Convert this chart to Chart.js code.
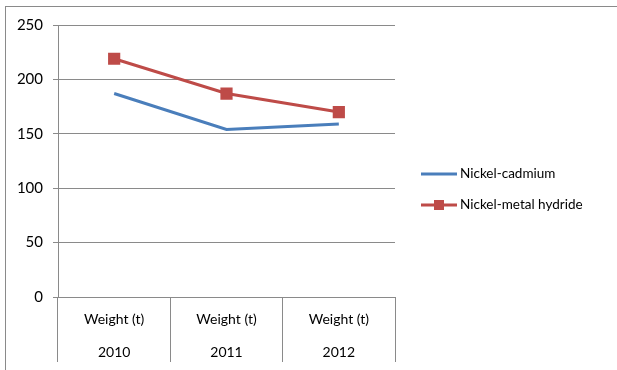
<!DOCTYPE html>
<html>
<head>
<meta charset="utf-8">
<script src="https://cdn.jsdelivr.net/npm/chart.js@4"></script>
<style>
  html, body { margin: 0; padding: 0; background: #fff; }
  #wrap { position: relative; width: 617px; height: 370px; overflow: hidden; }
  #frame { position: absolute; left: 5px; top: 6px; width: 700px; height: 500px;
           border-top: 1px solid #8a8a8a; border-left: 1px solid #8a8a8a; }
  canvas { position: absolute; left: 0; top: 0; }
</style>
</head>
<body>
<div id="wrap">
  <div id="frame"></div>
  <canvas id="chart" width="617" height="370"></canvas>
</div>
<script>
// battery weights per year
const years = ['2010', '2011', '2012'];
const measure = 'Weight (t)';
const nickelCadmium = [187, 154, 159];
const nickelMetalHydride = [219, 187, 170];
const yTicks = [0, 50, 100, 150, 200, 250];

const seriesNames = ['Nickel-cadmium', 'Nickel-metal hydride'];
const seriesColors = ['#4a7ebb', '#be4b48'];

const FONT = "Lato, 'Open Sans', sans-serif";

// legend on the right: line + marker sample, then the name
const sideLegend = {
  id: 'sideLegend',
  afterDraw(chart) {
    const ctx = chart.ctx;
    ctx.save();
    chart.data.datasets.forEach((ds, i) => {
      const y = 174 + i * 31;
      ctx.strokeStyle = ds.borderColor;
      ctx.lineWidth = 3;
      ctx.beginPath();
      ctx.moveTo(421, y);
      ctx.lineTo(457, y);
      ctx.stroke();
      if (ds.pointRadius > 0) {
        ctx.fillStyle = ds.pointBackgroundColor;
        ctx.fillRect(439 - 5, y - 5, 10, 10);
      }
      ctx.fillStyle = '#000';
      ctx.font = '13.5px ' + FONT;
      ctx.textBaseline = 'middle';
      ctx.textAlign = 'left';
      ctx.fillText(ds.label, 460, y);
    });
    ctx.restore();
  }
};

new Chart(document.getElementById('chart'), {
  type: 'line',
  data: {
    labels: years.map(y => [measure, y]),
    datasets: [
      {
        label: seriesNames[0],
        data: nickelCadmium,
        borderColor: seriesColors[0],
        backgroundColor: seriesColors[0],
        borderWidth: 3,
        pointRadius: 0,
        tension: 0
      },
      {
        label: seriesNames[1],
        data: nickelMetalHydride,
        borderColor: seriesColors[1],
        backgroundColor: seriesColors[1],
        pointBackgroundColor: seriesColors[1],
        pointBorderColor: seriesColors[1],
        borderWidth: 3,
        pointStyle: 'rect',
        pointRadius: 6.5,
        tension: 0
      }
    ]
  },
  options: {
    responsive: false,
    animation: false,
    layout: { padding: { top: 25, right: 222, bottom: 0, left: 0 } },
    plugins: {
      legend: { display: false },
      tooltip: { enabled: false }
    },
    scales: {
      x: {
        offset: true,
        afterFit: (scale) => { scale.height = 73; },
        grid: {
          offset: true,
          drawOnChartArea: false,
          tickLength: 65,
          color: '#8a8a8a'
        },
        border: { color: '#8a8a8a' },
        ticks: {
          padding: -59,
          color: '#000',
          font: { family: FONT, size: 14, lineHeight: 2.36 }
        }
      },
      y: {
        min: 0,
        max: 250,
        afterFit: (scale) => { scale.width = 58; },
        afterBuildTicks: (scale) => { scale.ticks = yTicks.map(v => ({ value: v })); },
        grid: { color: '#8a8a8a', tickLength: 5 },
        border: { color: '#8a8a8a' },
        ticks: {
          padding: 10,
          color: '#000',
          font: { family: FONT, size: 15 }
        }
      }
    }
  },
  plugins: [sideLegend]
});
</script>
</body>
</html>
